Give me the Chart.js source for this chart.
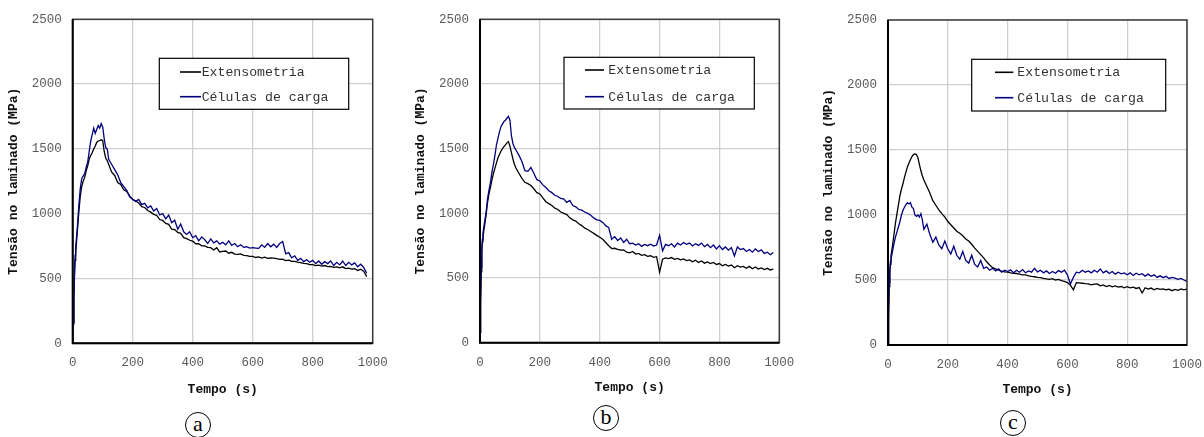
<!DOCTYPE html>
<html lang="pt">
<head>
<meta charset="utf-8">
<title>Tensão no laminado</title>
<script src="https://cdn.jsdelivr.net/npm/chart.js@4.4.1/dist/chart.umd.min.js"></script>
<style>
  html, body { margin: 0; padding: 0; background: #fff; }
  body { width: 1204px; height: 437px; position: relative; overflow: hidden; }
  canvas { position: absolute; top: 0; }
  .tag {
    position: absolute; width: 26px; height: 26px; border: 1px solid #000; border-radius: 50%;
    font: 22px "Liberation Serif", "DejaVu Serif", serif; color: #000;
    text-align: center; line-height: 22px; box-sizing: border-box;
  }
</style>
</head>
<body>
<canvas id="painelA" width="400" height="402" style="left:0px"></canvas>
<canvas id="painelB" width="400" height="400" style="left:407px"></canvas>
<canvas id="painelC" width="400" height="402" style="left:815px"></canvas>
<div class="tag" style="left:185px; top:412px">a</div>
<div class="tag" style="left:593px; top:405px">b</div>
<div class="tag" style="left:1000px; top:410px">c</div>
<script>
// Tempo (s) shared by all three tests
const tempo = [0, 2, 4, 6, 8, 10, 15, 20, 25, 30, 35, 40, 45, 50, 55, 60, 65, 70, 75, 80, 85, 90, 95, 100, 105, 110, 115, 120,
  130, 140, 150, 160, 170, 180, 190, 200, 210, 220, 230, 240, 250, 260, 270, 280, 290, 300,
  310, 320, 330, 340, 350, 360, 370, 380, 390, 400, 410, 420, 430, 440, 450, 460, 470, 480, 490, 500,
  510, 520, 530, 540, 550, 560, 570, 580, 590, 600, 610, 620, 630, 640, 650, 660, 670, 680, 690, 700,
  710, 720, 730, 740, 750, 760, 770, 780, 790, 800, 810, 820, 830, 840, 850, 860, 870, 880, 890, 900,
  910, 920, 930, 940, 950, 960, 970, 980, 990, 1000];

const xTicks = [0, 200, 400, 600, 800, 1000];
const yTicks = [0, 500, 1000, 1500, 2000, 2500];
const legendas = ['Extensometria', 'Células de carga'];

// (a) tensão (MPa)
const extensometriaA = [0, 150, 350, 520, 640, 700, 850, 1000, 1130, 1210, 1250, 1280, 1330, 1370, 1420, 1450, 1470, 1500, 1520, 1550, 1560, 1565, 1570, 1565, 1480, 1430, 1410, 1380,
  1320, 1295, 1240, 1225, 1185, 1172, 1135, 1112, 1098, 1082, 1055, 1048, 1025, 1012, 995, 988, 955, 948,
  925, 918, 880, 878, 855, 848, 815, 808, 795, 788, 768, 768, 752, 752, 740, 738, 720, 738, 705, 710,
  712, 695, 702, 688, 686, 690, 678, 676, 670, 670, 662, 667, 658, 664, 655, 658, 657, 653, 648, 650,
  638, 642, 632, 632, 626, 622, 616, 614, 607, 607, 600, 603, 595, 600, 592, 594, 586, 590, 582, 590,
  576, 580, 572, 575, 562, 572, 556, 515];
const celulasA = [0, 160, 380, 560, 680, 740, 880, 1050, 1190, 1270, 1290, 1310, 1360, 1400, 1480, 1560, 1610, 1660, 1620, 1650, 1680, 1660, 1695, 1670, 1580, 1510, 1500, 1420,
  1380, 1340, 1300, 1240, 1210, 1180, 1130, 1110, 1095, 1110, 1070, 1080, 1045, 1060, 1020, 1040, 990, 1000,
  960, 990, 930, 950, 880, 920, 860, 840, 860, 815, 830, 790, 820, 800, 770, 805, 775, 790, 765, 780,
  760, 790, 755, 770, 745, 760, 740, 745, 735, 738, 735, 732, 760, 740, 770, 745, 765, 740, 770, 785,
  690, 700, 660, 675, 640, 655, 630, 645, 625, 640, 615, 635, 610, 630, 615, 635, 600, 625, 605, 635,
  600, 625, 605, 620, 590, 610, 585, 540];

// (b) tensão (MPa)
const extensometriaB = [80, 300, 550, 700, 780, 820, 900, 980, 1080, 1150, 1200, 1260, 1310, 1350, 1390, 1430, 1455, 1480, 1500, 1515, 1530, 1545, 1555, 1520, 1470, 1420, 1380, 1350,
  1310, 1270, 1240, 1230, 1215, 1190, 1160, 1150, 1120, 1090, 1075, 1060, 1040, 1030, 1010, 1000, 990, 965,
  950, 940, 920, 905, 885, 875, 860, 845, 830, 815, 800, 775, 750, 728, 730, 722, 715, 718, 700, 695,
  705, 685, 690, 675, 680, 668, 672, 660, 665, 545, 645, 655, 650, 658, 645, 652, 640, 648, 635, 640,
  625, 638, 620, 632, 615, 625, 612, 620, 605, 612, 595, 605, 592, 600, 580, 595, 585, 590, 575, 590,
  572, 585, 570, 578, 565, 575, 562, 568];
const celulasB = [80, 320, 580, 720, 800, 850, 930, 1000, 1110, 1180, 1240, 1320, 1380, 1450, 1530, 1580, 1630, 1670, 1690, 1710, 1720, 1735, 1750, 1720, 1600, 1540, 1510, 1490,
  1450, 1400, 1330, 1325, 1355, 1310, 1260, 1250, 1220, 1200, 1175, 1160, 1140, 1130, 1115, 1110, 1085, 1100,
  1060, 1050, 1030, 1025, 1010, 1000, 985, 965, 950, 945, 930, 905, 890, 800, 820, 790, 810, 775, 800, 765,
  770, 755, 765, 745, 760, 750, 762, 748, 755, 830, 710, 760, 750, 765, 740, 770, 755, 775, 760, 770,
  748, 765, 752, 770, 742, 760, 735, 755, 725, 750, 720, 740, 715, 735, 670, 740, 720, 728, 705, 720,
  700, 725, 705, 718, 690, 700, 680, 698];

// (c) tensão (MPa)
const extensometriaC = [0, 250, 450, 560, 640, 690, 760, 850, 940, 1010, 1080, 1150, 1200, 1240, 1290, 1330, 1370, 1400, 1425, 1450, 1465, 1470, 1465, 1440, 1390, 1340, 1300, 1270,
  1220, 1170, 1110, 1075, 1040, 1010, 985, 950, 925, 900, 875, 860, 840, 815, 800, 775, 745, 720,
  695, 670, 640, 615, 595, 585, 575, 568, 562, 560, 555, 552, 550, 545, 540, 540, 532, 528, 525, 520,
  518, 512, 508, 505, 510, 500, 505, 495, 490, 480, 460, 425, 480, 478, 475, 472, 470, 462, 468, 470,
  455, 462, 450, 458, 448, 455, 445, 450, 440, 448, 440, 445, 435, 442, 400, 440, 430, 438, 425, 435,
  428, 432, 425, 430, 418, 428, 420, 432, 425, 430];
const celulasC = [0, 200, 480, 560, 620, 660, 720, 780, 830, 870, 910, 950, 1000, 1035, 1060, 1080, 1095, 1085, 1095, 1060, 1050, 1000, 990, 1000, 985, 1010, 960, 890,
  930, 850, 790, 830, 770, 740, 800, 740, 700, 760, 690, 660, 720, 650, 630, 690, 620, 600,
  650, 590, 600, 575, 590, 570, 585, 560, 575, 565, 578, 555, 575, 560, 580, 556, 570, 560, 590, 562,
  575, 555, 570, 550, 565, 552, 572, 560, 575, 540, 470, 520, 560, 555, 575, 560, 570, 555, 575, 560,
  585, 555, 570, 550, 565, 545, 560, 548, 555, 540, 555, 535, 552, 540, 548, 530, 545, 528, 540, 520,
  532, 518, 528, 512, 520, 515, 505, 512, 500, 490];

const MONO = '"Liberation Mono", "Courier New", "DejaVu Sans Mono", monospace';

function pontos(valores) {
  return valores.map((v, i) => ({ x: tempo[i], y: v }));
}

// boxed legend drawn inside the plot area, plus the dark frame around the plot
const molduraLegenda = {
  id: 'molduraLegenda',
  afterDatasetsDraw(chart, args, opts) {
    const { ctx, chartArea: a } = chart;
    ctx.save();
    ctx.strokeStyle = '#3a3a3a';
    ctx.lineWidth = 1.5;
    ctx.strokeRect(a.left, a.top, a.right - a.left, a.bottom - a.top);
    ctx.strokeStyle = '#000';
    ctx.lineWidth = 2;
    ctx.beginPath();
    ctx.moveTo(a.left, a.top);
    ctx.lineTo(a.left, a.bottom);
    ctx.lineTo(a.right, a.bottom);
    ctx.stroke();

    const bx = a.left + opts.left, by = a.top + opts.top;
    ctx.fillStyle = '#fff';
    ctx.fillRect(bx, by, opts.width, opts.height);
    ctx.strokeStyle = '#000';
    ctx.lineWidth = 1.2;
    ctx.strokeRect(bx, by, opts.width, opts.height);
    ctx.font = '13.2px ' + MONO;
    ctx.textBaseline = 'middle';
    ctx.textAlign = 'left';
    chart.data.datasets.forEach((ds, i) => {
      const y = by + opts.rows[i];
      ctx.strokeStyle = ds.borderColor;
      ctx.lineWidth = 1.6;
      ctx.beginPath();
      ctx.moveTo(bx + opts.sample[0], y);
      ctx.lineTo(bx + opts.sample[1], y);
      ctx.stroke();
      ctx.fillStyle = '#333';
      ctx.fillText(ds.label, bx + opts.textX, y + 0.5);
    });
    ctx.restore();
  }
};

function painel(id, ext, cel, geo) {
  new Chart(document.getElementById(id), {
    type: 'line',
    data: {
      datasets: [
        { label: legendas[0], data: pontos(ext), borderColor: '#000000', borderWidth: 1.3, pointRadius: 0, order: 1 },
        { label: legendas[1], data: pontos(cel), borderColor: '#00007f', borderWidth: 1.3, pointRadius: 0, order: 0 }
      ]
    },
    options: {
      responsive: false,
      animation: false,
      devicePixelRatio: 1,
      events: [],
      layout: { padding: { left: 0, top: geo.top, right: geo.right, bottom: 0 } },
      plugins: {
        legend: { display: false },
        tooltip: { enabled: false },
        molduraLegenda: geo.legend
      },
      scales: {
        x: {
          type: 'linear', min: 0, max: 1000,
          afterBuildTicks: s => { s.ticks = xTicks.map(v => ({ value: v })); },
          afterFit: s => { s.height = geo.xh; },
          grid: { color: '#cfcfcf', lineWidth: 1.3, drawTicks: false },
          border: { display: false },
          ticks: { padding: 12, color: '#5a5a5a', font: { family: MONO, size: 12.5 }, maxRotation: 0,
                   callback: v => String(v) },
          title: { display: true, text: 'Tempo (s)', color: '#111', padding: { top: 0, bottom: 4 },
                   font: { family: MONO, size: 13, weight: 'bold' } }
        },
        y: {
          type: 'linear', min: 0, max: 2500,
          afterBuildTicks: s => { s.ticks = yTicks.map(v => ({ value: v })); },
          afterFit: s => { s.width = geo.yw; },
          grid: { color: '#cfcfcf', lineWidth: 1.3, drawTicks: false },
          border: { display: false },
          ticks: { padding: 11, color: '#5a5a5a', font: { family: MONO, size: 12.5 },
                   callback: v => String(v) },
          title: { display: true, text: 'Tensão no laminado (MPa)', color: '#111', padding: { top: 6, bottom: 0 },
                   font: { family: MONO, size: 13, weight: 'bold' } }
        }
      }
    },
    plugins: [molduraLegenda]
  });
}

painel('painelA', extensometriaA, celulasA, {
  top: 19.3, right: 27.3, yw: 72.7, xh: 402 - 343.3,
  legend: { left: 86.6, top: 39, width: 189.4, height: 51, sample: [20.7, 41.7], textX: 42.4, rows: [13.7, 38.4] }
});
painel('painelB', extensometriaB, celulasB, {
  top: 19.3, right: 400 - 372.3, yw: 73, xh: 400 - 342.7,
  legend: { left: 84, top: 38, width: 190.3, height: 51.7, sample: [21, 40], textX: 44.3, rows: [12.7, 39.4] }
});
painel('painelC', extensometriaC, celulasC, {
  top: 20, right: 28, yw: 73, xh: 402 - 345,
  legend: { left: 83.7, top: 39.3, width: 194, height: 51.7, sample: [23.3, 41.6], textX: 45.6, rows: [13, 38.4] }
});
</script>
</body>
</html>
